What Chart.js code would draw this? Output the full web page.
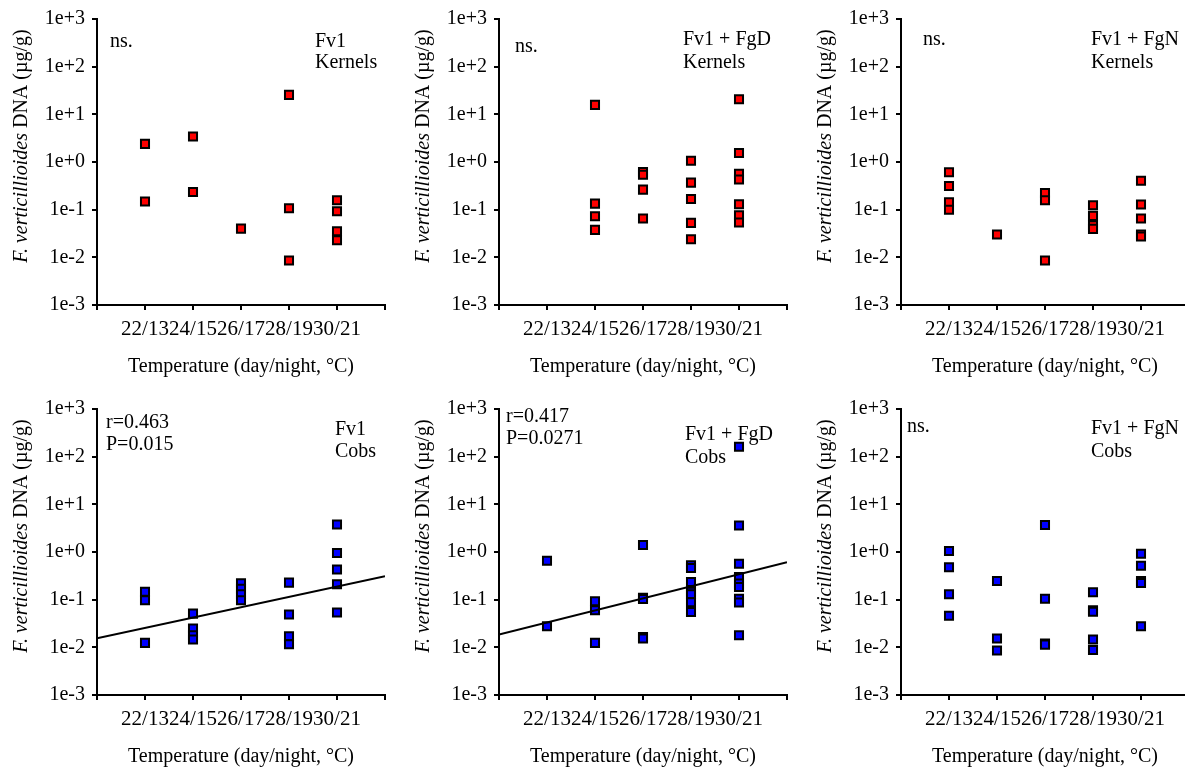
<!DOCTYPE html>
<html>
<head>
<meta charset="utf-8">
<script src="https://cdn.jsdelivr.net/npm/chart.js@4.4.1/dist/chart.umd.min.js"></script>
<style>
    html, body { margin: 0; padding: 0; background: #fff; overflow: hidden; }
    body { width: 1185px; height: 771px; position: relative; }
    canvas { position: absolute; }
</style>
</head>
<body>
<canvas id="c1" width="400" height="390" style="left:0px;top:0px"></canvas>
<canvas id="c2" width="400" height="390" style="left:402px;top:0px"></canvas>
<canvas id="c3" width="400" height="390" style="left:804px;top:0px"></canvas>
<canvas id="c4" width="400" height="390" style="left:0px;top:390px"></canvas>
<canvas id="c5" width="400" height="390" style="left:402px;top:390px"></canvas>
<canvas id="c6" width="400" height="390" style="left:804px;top:390px"></canvas>
<script>
// Categories and ticks
const categories = ['22/13', '24/15', '26/17', '28/19', '30/21'];
const yTickValues = [1e-3, 1e-2, 1e-1, 1, 10, 100, 1000];
const yTickLabels = ['1e-3', '1e-2', '1e-1', '1e+0', '1e+1', '1e+2', '1e+3'];

// Values per temperature (one list per category)
const fv1Kernels = [[2.4, 0.148], [3.44, 0.235], [0.040], [25.6, 0.107, 0.0086], [0.157, 0.0925, 0.0353, 0.0229]];
const fgdKernels = [[], [15.8, 0.134, 0.0728, 0.0377], [0.617, 0.542, 0.263, 0.065], [1.06, 0.369, 0.168, 0.0528, 0.024], [20.8, 1.54, 0.569, 0.43, 0.13, 0.0764, 0.0536]];
const fgnKernels = [[0.607, 0.314, 0.143, 0.1], [0.030], [0.224, 0.157, 0.0086], [0.124, 0.074, 0.047, 0.0395], [0.406, 0.128, 0.065, 0.030, 0.0274]];
const fv1Cobs = [[0.146, 0.097, 0.0124], [0.051, 0.0248, 0.018, 0.0146], [0.22, 0.17, 0.13, 0.097], [0.228, 0.0487, 0.0171, 0.0116], [3.79, 0.95, 0.43, 0.21, 0.0536]];
const fgdCobs = [[0.658, 0.0277], [0.0925, 0.06, 0.0124], [1.40, 0.11, 0.103, 0.0165, 0.0153], [0.525, 0.46, 0.235, 0.146, 0.13, 0.088, 0.0553], [162, 3.61, 0.569, 0.30, 0.217, 0.185, 0.105, 0.087, 0.018]];
const fgnCobs = [[1.05, 0.477, 0.13, 0.046], [0.247, 0.0153, 0.0086], [3.67, 0.105, 0.012, 0.0114], [0.143, 0.06, 0.056, 0.0146, 0.0088], [0.92, 0.516, 0.247, 0.224, 0.0277]];

// Regression lines (value at axis start x=0 and end x=6)
const fv1CobsTrend = [0.0155, 0.31];
const fgdCobsTrend = [0.0186, 0.61];

const FONT = '"Liberation Serif", "Times New Roman", serif';

function toPoints(groups) {
    const pts = [];
    groups.forEach((vals, i) => {
        vals.forEach(v => pts.push({ x: i + 1, y: v }));
    });
    return pts;
}

// Draws axis titles and the small notes in each panel
const notesPlugin = {
    id: 'notes',
    afterDraw(chart) {
        const ctx = chart.ctx;
        const area = chart.chartArea;
        const opts = chart.options.plugins.notes;
        ctx.save();
        ctx.fillStyle = '#000';
        ctx.textBaseline = 'middle';

        // x title
        ctx.font = '20px ' + FONT;
        ctx.textAlign = 'center';
        ctx.fillText('Temperature (day/night, °C)', (area.left + area.right) / 2, 367);

        // y title, italic species name
        ctx.save();
        ctx.translate(22, 146);
        ctx.rotate(-Math.PI / 2);
        const italic = 'italic 20px ' + FONT;
        const normal = '20px ' + FONT;
        ctx.font = italic;
        const w1 = ctx.measureText('F. verticillioides ').width;
        ctx.font = normal;
        const w2 = ctx.measureText('DNA (µg/g)').width;
        let x0 = -(w1 + w2) / 2;
        ctx.textAlign = 'left';
        ctx.font = italic;
        ctx.fillText('F. verticillioides ', x0, 0);
        ctx.font = normal;
        ctx.fillText('DNA (µg/g)', x0 + w1, 0);
        ctx.restore();

        ctx.font = '20px ' + FONT;
        ctx.textAlign = 'left';
        opts.lines.forEach(l => ctx.fillText(l[0], l[1], l[2]));
        ctx.restore();
    }
};

function makeChart(id, values, color, trend, lines) {
    const datasets = [{
        data: toPoints(values),
        pointStyle: 'rect',
        pointRadius: 5.7,
        pointBackgroundColor: color,
        pointBorderColor: '#000',
        pointBorderWidth: 2,
        showLine: false
    }];
    if (trend) {
        datasets.unshift({
            data: [{ x: 0, y: trend[0] }, { x: 6, y: trend[1] }],
            showLine: true,
            borderColor: '#000',
            borderWidth: 2,
            pointRadius: 0
        });
    }
    new Chart(document.getElementById(id), {
        type: 'scatter',
        data: { datasets },
        options: {
            responsive: false,
            animation: false,
            devicePixelRatio: 1,
            layout: { padding: { top: 18, right: 15, left: 0, bottom: 0 } },
            plugins: {
                legend: { display: false },
                tooltip: { enabled: false },
                notes: { lines }
            },
            scales: {
                x: {
                    type: 'linear',
                    min: 0,
                    max: 6,
                    afterFit: s => { s.height = 85; },
                    afterBuildTicks: s => { s.ticks = [0, 1, 2, 3, 4, 5, 6].map(v => ({ value: v })); },
                    grid: { drawOnChartArea: false, drawTicks: true, tickLength: 5, color: '#000', lineWidth: 2 },
                    border: { color: '#000', width: 2 },
                    ticks: {
                        autoSkip: false,
                        maxRotation: 0,
                        minRotation: 0,
                        padding: 7,
                        color: '#000',
                        font: { family: FONT, size: 21 },
                        callback: v => categories[v - 1] || ''
                    }
                },
                y: {
                    type: 'logarithmic',
                    min: 1e-3,
                    max: 1e3,
                    afterFit: s => { s.width = 97; },
                    afterBuildTicks: s => { s.ticks = yTickValues.map(v => ({ value: v })); },
                    grid: { drawOnChartArea: false, drawTicks: true, tickLength: 5, color: '#000', lineWidth: 2 },
                    border: { color: '#000', width: 2 },
                    ticks: {
                        padding: 7,
                        color: '#000',
                        font: { family: FONT, size: 20 },
                        callback: (v, i) => yTickLabels[i]
                    }
                }
            }
        },
        plugins: [notesPlugin]
    });
}

makeChart('c1', fv1Kernels, '#ff0000', null, [['ns.', 110, 42], ['Fv1', 315, 42], ['Kernels', 315, 63]]);
makeChart('c2', fgdKernels, '#ff0000', null, [['ns.', 113, 47], ['Fv1 + FgD', 281, 40], ['Kernels', 281, 63]]);
makeChart('c3', fgnKernels, '#ff0000', null, [['ns.', 119, 40], ['Fv1 + FgN', 287, 40], ['Kernels', 287, 63]]);
makeChart('c4', fv1Cobs, '#0000ff', fv1CobsTrend, [['r=0.463', 106, 33], ['P=0.015', 106, 55], ['Fv1', 335, 40], ['Cobs', 335, 62]]);
makeChart('c5', fgdCobs, '#0000ff', fgdCobsTrend, [['r=0.417', 104, 27], ['P=0.0271', 104, 49], ['Fv1 + FgD', 283, 45], ['Cobs', 283, 68]]);
makeChart('c6', fgnCobs, '#0000ff', null, [['ns.', 103, 37], ['Fv1 + FgN', 287, 39], ['Cobs', 287, 62]]);
</script>
</body>
</html>
